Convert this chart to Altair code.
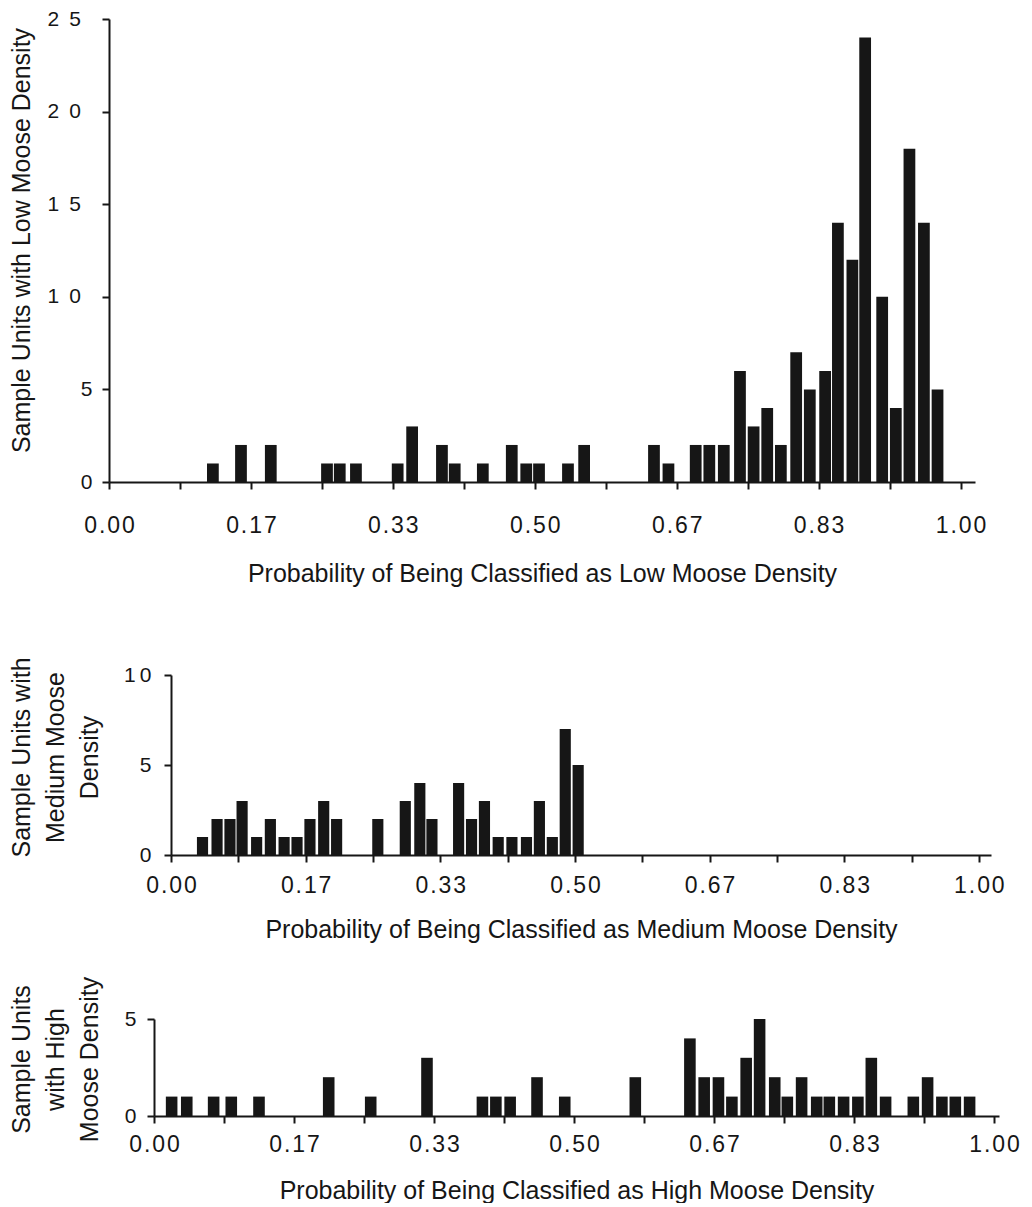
import altair as alt
import pandas as pd

# ---- data (bar centre = probability, height = count) ----
low_prob = [0.122, 0.155, 0.190, 0.256, 0.271, 0.290, 0.339, 0.356, 0.391, 0.406,
            0.439, 0.473, 0.490, 0.505, 0.539, 0.558, 0.640, 0.657, 0.689, 0.705,
            0.722, 0.741, 0.757, 0.773, 0.789, 0.807, 0.823, 0.841, 0.856, 0.873,
            0.888, 0.908, 0.924, 0.940, 0.957, 0.973]
low_count = [1, 2, 2, 1, 1, 1, 1, 3, 2, 1,
             1, 2, 1, 1, 1, 2, 2, 1, 2, 2,
             2, 6, 3, 4, 2, 7, 5, 6, 14, 12,
             24, 10, 4, 18, 14, 5]

med_prob = [0.039, 0.057, 0.073, 0.088, 0.106, 0.123, 0.140, 0.156, 0.172, 0.189,
            0.205, 0.256, 0.290, 0.308, 0.323, 0.356, 0.372, 0.388, 0.405, 0.422,
            0.440, 0.456, 0.472, 0.488, 0.504]
med_count = [1, 2, 2, 3, 1, 2, 1, 1, 2, 3,
             2, 2, 3, 4, 2, 4, 2, 3, 1, 1,
             1, 3, 1, 7, 5]

high_prob = [0.021, 0.039, 0.071, 0.092, 0.125, 0.208, 0.258, 0.325, 0.391, 0.407,
             0.424, 0.456, 0.489, 0.573, 0.638, 0.655, 0.672, 0.688, 0.705, 0.721,
             0.739, 0.754, 0.771, 0.789, 0.804, 0.821, 0.838, 0.854, 0.871, 0.904,
             0.921, 0.938, 0.954, 0.971]
high_count = [1, 1, 1, 1, 1, 2, 1, 3, 1, 1,
              1, 2, 1, 2, 4, 2, 2, 1, 3, 5,
              2, 1, 2, 1, 1, 1, 1, 3, 1, 1,
              2, 1, 1, 1]

x_ticks = [i / 12 for i in range(13)]
low_yticks = [0, 5, 10, 15, 20, 25]
med_yticks = [0, 5, 10]
high_yticks = [0, 5]

FONT = "Liberation Sans"
INK = "#161616"
HALF = 0.0069  # half bar width in probability units

x_label_expr = ("round(datum.value*12) % 2 == 0 ? "
                "join(split(format(datum.value, '.2f'), ''), '\u200a') : ''")


def panel(probs, counts, ymax, yticks, ytitle, xtitle, w, h, xmax,
          ylab_expr, x_lp, x_tp, y_lp, y_tp, title_y):
    df = pd.DataFrame({"p": probs, "n": counts})
    return (
        alt.Chart(df)
        .transform_calculate(x0=f"datum.p - {HALF}", x1=f"datum.p + {HALF}")
        .mark_bar(color=INK)
        .encode(
            x=alt.X(
                "x0:Q",
                scale=alt.Scale(domain=[0, xmax], nice=False, zero=False),
                axis=alt.Axis(
                    values=x_ticks, labelExpr=x_label_expr, title=xtitle,
                    tickSize=7, tickWidth=2, domainWidth=2,
                    labelFontSize=23, labelPadding=x_lp, labelFlush=False,
                    labelOverlap=False, titleFontSize=25, titleFontWeight="normal",
                    titlePadding=x_tp, grid=False,
                ),
            ),
            x2="x1:Q",
            y=alt.Y(
                "n:Q",
                stack=None,
                scale=alt.Scale(domain=[0, ymax], nice=False),
                axis=alt.Axis(
                    values=yticks, labelExpr=ylab_expr, title=ytitle,
                    tickSize=7, tickWidth=2, domainWidth=2,
                    labelFontSize=21, labelPadding=y_lp, labelFlush=False,
                    titleFontSize=25, titleFontWeight="normal",
                    titlePadding=y_tp, titleLineHeight=34, titleY=title_y,
                    grid=False,
                ),
            ),
            y2=alt.datum(0),
        )
        .properties(width=w, height=h)
    )


def row(panel_chart):
    # an invisible 1px cell on the left, so that each row starts at its own
    # left bound instead of sharing one plot origin with the other rows
    spacer = (
        alt.Chart(pd.DataFrame({"v": [0]}))
        .mark_rule(opacity=0)
        .encode(x=alt.value(0), y=alt.value(0), y2=alt.value(1))
        .properties(width=1, height=1)
    )
    return alt.hconcat(spacer, panel_chart, spacing=0)


top = panel(
    low_prob, low_count, 25, low_yticks,
    "Sample Units with Low Moose Density",
    "Probability of Being Classified as Low Moose Density",
    866, 463, 1.017,
    "length(datum.label) > 1 ? join(split(datum.label, ''), '\u00a0\u2009') + '\u00a0\u00a0\u200b' : datum.label",
    25, 24, 10, 12, 221,
)
mid = panel(
    med_prob, med_count, 10, med_yticks,
    ["Sample Units with", "Medium Moose", "Density"],
    "Probability of Being Classified as Medium Moose Density",
    820, 180, 1.015,
    "join(split(datum.label, ''), '\u2009')",
    12, 20, 13, 21, 82,
)
bot = panel(
    high_prob, high_count, 5, high_yticks,
    ["Sample Units", "with High", "Moose Density"],
    "Probability of Being Classified as High Moose Density",
    845, 97, 1.006,
    "datum.label",
    10, 22, 11, 22, 40,
)

inner = alt.vconcat(row(mid), row(bot), spacing=34)
chart = (
    alt.vconcat(row(top), inner, spacing=70)
    .properties(padding={"left": 0, "top": 0, "right": 0, "bottom": 0})
    .configure_view(stroke=None)
    .configure_axis(
        domainColor=INK, tickColor=INK, labelColor=INK, titleColor=INK,
        labelFont=FONT, titleFont=FONT,
    )
)

chart.save("out.html", embed_options={"renderer": "svg", "actions": False})
